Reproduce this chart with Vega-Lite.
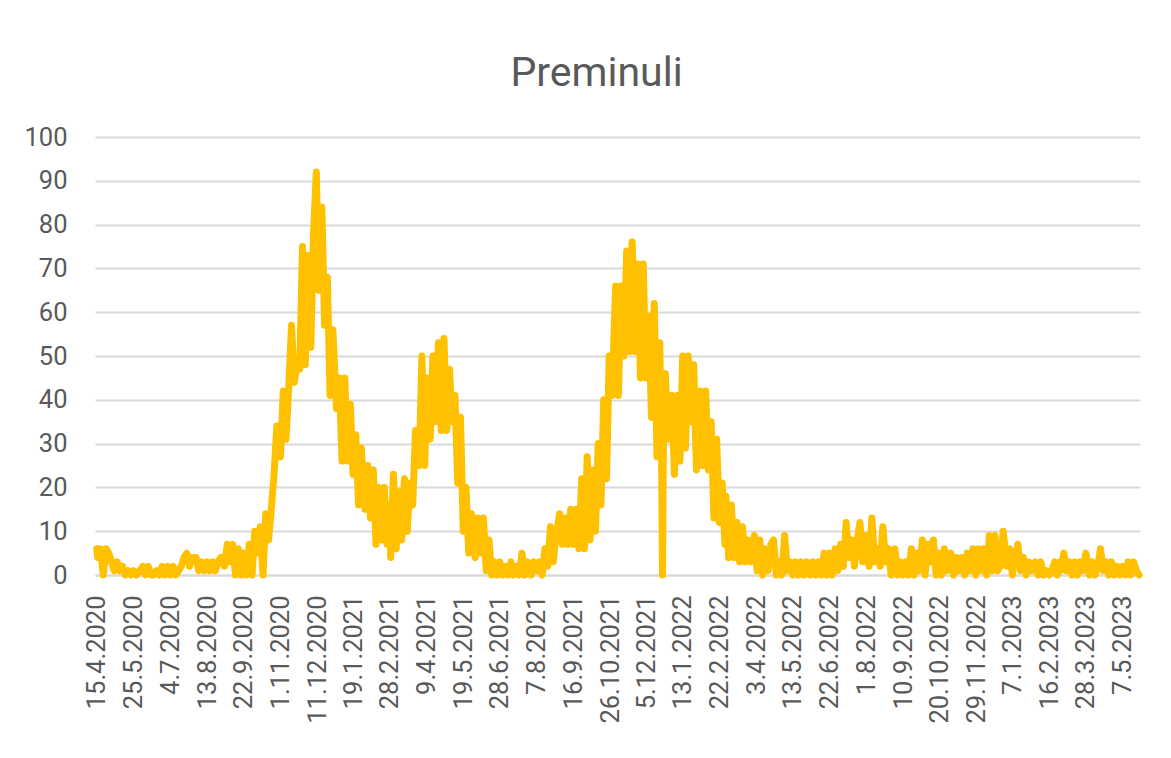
{
"$schema": "https://vega.github.io/schema/vega-lite/v6.json",
"width": 1045, "height": 438,
"autosize": {"type": "none"},
"padding": {"left": 95, "top": 137, "right": 31, "bottom": 183},
"background": "white",
"title": {"text": "Preminuli", "font": "Roboto", "fontSize": 41, "fontWeight": "normal", "color": "#595959", "anchor": "middle", "frame": "group", "dx": -21, "offset": 30},
"data": {"values": [
{"date":"2020-04-15","value":6},{"date":"2020-04-16","value":4},{"date":"2020-04-19","value":6},{"date":"2020-04-22","value":0},{"date":"2020-04-25","value":6},{"date":"2020-04-28","value":5},
{"date":"2020-05-01","value":3},{"date":"2020-05-04","value":1},{"date":"2020-05-07","value":3},{"date":"2020-05-10","value":1},{"date":"2020-05-13","value":2},{"date":"2020-05-16","value":0},{"date":"2020-05-19","value":1},{"date":"2020-05-22","value":0},{"date":"2020-05-25","value":1},{"date":"2020-05-28","value":0},
{"date":"2020-06-01","value":1},{"date":"2020-06-04","value":2},{"date":"2020-06-07","value":0},{"date":"2020-06-10","value":2},{"date":"2020-06-13","value":0},{"date":"2020-06-16","value":0},{"date":"2020-06-19","value":1},{"date":"2020-06-22","value":0},{"date":"2020-06-25","value":2},{"date":"2020-06-28","value":0},
{"date":"2020-07-01","value":2},{"date":"2020-07-04","value":0},{"date":"2020-07-07","value":2},{"date":"2020-07-10","value":0},{"date":"2020-07-13","value":1},{"date":"2020-07-16","value":2},{"date":"2020-07-19","value":4},{"date":"2020-07-22","value":5},{"date":"2020-07-25","value":2},{"date":"2020-07-28","value":4},
{"date":"2020-08-01","value":4},{"date":"2020-08-04","value":1},{"date":"2020-08-07","value":3},{"date":"2020-08-10","value":1},{"date":"2020-08-13","value":3},{"date":"2020-08-16","value":1},{"date":"2020-08-19","value":3},{"date":"2020-08-22","value":1},{"date":"2020-08-25","value":3},{"date":"2020-08-28","value":4},
{"date":"2020-09-01","value":2},{"date":"2020-09-04","value":7},{"date":"2020-09-07","value":3},{"date":"2020-09-10","value":7},{"date":"2020-09-13","value":0},{"date":"2020-09-16","value":6},{"date":"2020-09-19","value":0},{"date":"2020-09-22","value":5},{"date":"2020-09-25","value":0},{"date":"2020-09-28","value":7},
{"date":"2020-10-01","value":0},{"date":"2020-10-04","value":10},{"date":"2020-10-07","value":5},{"date":"2020-10-10","value":11},{"date":"2020-10-13","value":0},{"date":"2020-10-16","value":14},{"date":"2020-10-19","value":8},{"date":"2020-10-22","value":15},{"date":"2020-10-25","value":23},{"date":"2020-10-28","value":34},
{"date":"2020-11-01","value":27},{"date":"2020-11-04","value":42},{"date":"2020-11-07","value":31},{"date":"2020-11-10","value":43},{"date":"2020-11-13","value":57},{"date":"2020-11-16","value":44},{"date":"2020-11-19","value":48},{"date":"2020-11-22","value":47},{"date":"2020-11-25","value":75},{"date":"2020-11-28","value":48},
{"date":"2020-12-01","value":73},{"date":"2020-12-04","value":52},{"date":"2020-12-07","value":78},{"date":"2020-12-10","value":92},{"date":"2020-12-13","value":65},{"date":"2020-12-16","value":84},{"date":"2020-12-19","value":57},{"date":"2020-12-22","value":68},{"date":"2020-12-25","value":41},{"date":"2020-12-28","value":56},
{"date":"2021-01-01","value":38},{"date":"2021-01-04","value":45},{"date":"2021-01-07","value":26},{"date":"2021-01-10","value":45},{"date":"2021-01-13","value":26},{"date":"2021-01-16","value":39},{"date":"2021-01-19","value":23},{"date":"2021-01-22","value":32},{"date":"2021-01-25","value":16},{"date":"2021-01-28","value":29},
{"date":"2021-02-01","value":15},{"date":"2021-02-04","value":25},{"date":"2021-02-07","value":13},{"date":"2021-02-10","value":24},{"date":"2021-02-13","value":7},{"date":"2021-02-16","value":20},{"date":"2021-02-19","value":8},{"date":"2021-02-22","value":20},{"date":"2021-02-25","value":7},{"date":"2021-02-28","value":16},
{"date":"2021-03-01","value":4},{"date":"2021-03-04","value":23},{"date":"2021-03-07","value":6},{"date":"2021-03-10","value":19},{"date":"2021-03-13","value":8},{"date":"2021-03-16","value":22},{"date":"2021-03-19","value":10},{"date":"2021-03-22","value":21},{"date":"2021-03-25","value":16},{"date":"2021-03-28","value":33},
{"date":"2021-04-01","value":25},{"date":"2021-04-04","value":50},{"date":"2021-04-07","value":25},{"date":"2021-04-10","value":45},{"date":"2021-04-13","value":31},{"date":"2021-04-16","value":50},{"date":"2021-04-19","value":35},{"date":"2021-04-22","value":53},{"date":"2021-04-25","value":33},{"date":"2021-04-28","value":54},
{"date":"2021-05-01","value":33},{"date":"2021-05-04","value":47},{"date":"2021-05-07","value":35},{"date":"2021-05-10","value":41},{"date":"2021-05-13","value":21},{"date":"2021-05-16","value":36},{"date":"2021-05-19","value":10},{"date":"2021-05-22","value":20},{"date":"2021-05-25","value":5},{"date":"2021-05-28","value":14},
{"date":"2021-06-01","value":4},{"date":"2021-06-04","value":13},{"date":"2021-06-07","value":5},{"date":"2021-06-10","value":13},{"date":"2021-06-13","value":1},{"date":"2021-06-16","value":8},{"date":"2021-06-19","value":0},{"date":"2021-06-22","value":3},{"date":"2021-06-25","value":0},{"date":"2021-06-28","value":3},
{"date":"2021-07-01","value":0},{"date":"2021-07-04","value":2},{"date":"2021-07-07","value":0},{"date":"2021-07-10","value":3},{"date":"2021-07-13","value":0},{"date":"2021-07-16","value":2},{"date":"2021-07-19","value":0},{"date":"2021-07-22","value":5},{"date":"2021-07-25","value":0},{"date":"2021-07-28","value":3},
{"date":"2021-08-01","value":0},{"date":"2021-08-04","value":3},{"date":"2021-08-07","value":1},{"date":"2021-08-10","value":3},{"date":"2021-08-13","value":0},{"date":"2021-08-16","value":6},{"date":"2021-08-19","value":2},{"date":"2021-08-22","value":11},{"date":"2021-08-25","value":3},{"date":"2021-08-28","value":9},
{"date":"2021-09-01","value":14},{"date":"2021-09-04","value":7},{"date":"2021-09-07","value":13},{"date":"2021-09-10","value":7},{"date":"2021-09-13","value":15},{"date":"2021-09-16","value":7},{"date":"2021-09-19","value":15},{"date":"2021-09-22","value":6},{"date":"2021-09-25","value":22},{"date":"2021-09-28","value":6},
{"date":"2021-10-01","value":27},{"date":"2021-10-04","value":8},{"date":"2021-10-07","value":24},{"date":"2021-10-10","value":10},{"date":"2021-10-13","value":30},{"date":"2021-10-16","value":16},{"date":"2021-10-19","value":40},{"date":"2021-10-22","value":22},{"date":"2021-10-25","value":50},{"date":"2021-10-28","value":41},
{"date":"2021-11-01","value":66},{"date":"2021-11-04","value":41},{"date":"2021-11-07","value":66},{"date":"2021-11-10","value":50},{"date":"2021-11-13","value":74},{"date":"2021-11-16","value":51},{"date":"2021-11-19","value":76},{"date":"2021-11-22","value":51},{"date":"2021-11-25","value":71},{"date":"2021-11-28","value":45},
{"date":"2021-12-01","value":71},{"date":"2021-12-04","value":45},{"date":"2021-12-07","value":59},{"date":"2021-12-10","value":36},{"date":"2021-12-13","value":62},{"date":"2021-12-16","value":27},{"date":"2021-12-19","value":53},{"date":"2021-12-21","value":27},{"date":"2021-12-22","value":0},{"date":"2021-12-23","value":31},{"date":"2021-12-25","value":46},{"date":"2021-12-28","value":31},
{"date":"2022-01-01","value":41},{"date":"2022-01-04","value":23},{"date":"2022-01-07","value":41},{"date":"2022-01-10","value":26},{"date":"2022-01-13","value":50},{"date":"2022-01-16","value":29},{"date":"2022-01-19","value":50},{"date":"2022-01-22","value":35},{"date":"2022-01-25","value":48},{"date":"2022-01-28","value":24},
{"date":"2022-02-01","value":42},{"date":"2022-02-04","value":25},{"date":"2022-02-07","value":42},{"date":"2022-02-10","value":24},{"date":"2022-02-13","value":35},{"date":"2022-02-16","value":13},{"date":"2022-02-19","value":31},{"date":"2022-02-22","value":12},{"date":"2022-02-25","value":21},{"date":"2022-02-28","value":7},
{"date":"2022-03-01","value":18},{"date":"2022-03-04","value":4},{"date":"2022-03-07","value":16},{"date":"2022-03-10","value":4},{"date":"2022-03-13","value":12},{"date":"2022-03-16","value":3},{"date":"2022-03-19","value":11},{"date":"2022-03-22","value":3},{"date":"2022-03-25","value":8},{"date":"2022-03-28","value":3},
{"date":"2022-04-01","value":9},{"date":"2022-04-04","value":1},{"date":"2022-04-07","value":8},{"date":"2022-04-10","value":0},{"date":"2022-04-13","value":6},{"date":"2022-04-16","value":1},{"date":"2022-04-19","value":7},{"date":"2022-04-22","value":8},{"date":"2022-04-25","value":0},{"date":"2022-04-28","value":3},
{"date":"2022-05-01","value":0},{"date":"2022-05-04","value":9},{"date":"2022-05-07","value":1},{"date":"2022-05-10","value":3},{"date":"2022-05-13","value":0},{"date":"2022-05-16","value":3},{"date":"2022-05-19","value":0},{"date":"2022-05-22","value":3},{"date":"2022-05-25","value":0},{"date":"2022-05-28","value":3},
{"date":"2022-06-01","value":0},{"date":"2022-06-04","value":3},{"date":"2022-06-07","value":0},{"date":"2022-06-10","value":3},{"date":"2022-06-13","value":0},{"date":"2022-06-16","value":5},{"date":"2022-06-19","value":0},{"date":"2022-06-22","value":5},{"date":"2022-06-25","value":0},{"date":"2022-06-28","value":6},
{"date":"2022-07-01","value":1},{"date":"2022-07-04","value":7},{"date":"2022-07-07","value":2},{"date":"2022-07-10","value":12},{"date":"2022-07-13","value":4},{"date":"2022-07-16","value":8},{"date":"2022-07-19","value":2},{"date":"2022-07-22","value":8},{"date":"2022-07-25","value":12},{"date":"2022-07-28","value":3},
{"date":"2022-08-01","value":9},{"date":"2022-08-04","value":2},{"date":"2022-08-07","value":13},{"date":"2022-08-10","value":3},{"date":"2022-08-13","value":6},{"date":"2022-08-16","value":2},{"date":"2022-08-19","value":11},{"date":"2022-08-22","value":3},{"date":"2022-08-25","value":6},{"date":"2022-08-28","value":0},
{"date":"2022-09-01","value":6},{"date":"2022-09-04","value":0},{"date":"2022-09-07","value":3},{"date":"2022-09-10","value":0},{"date":"2022-09-13","value":3},{"date":"2022-09-16","value":0},{"date":"2022-09-19","value":6},{"date":"2022-09-22","value":0},{"date":"2022-09-25","value":5},{"date":"2022-09-28","value":1},
{"date":"2022-10-01","value":8},{"date":"2022-10-04","value":0},{"date":"2022-10-07","value":7},{"date":"2022-10-10","value":3},{"date":"2022-10-13","value":8},{"date":"2022-10-16","value":0},{"date":"2022-10-19","value":5},{"date":"2022-10-22","value":0},{"date":"2022-10-25","value":6},{"date":"2022-10-28","value":1},
{"date":"2022-11-01","value":5},{"date":"2022-11-04","value":0},{"date":"2022-11-07","value":4},{"date":"2022-11-10","value":1},{"date":"2022-11-13","value":4},{"date":"2022-11-16","value":0},{"date":"2022-11-19","value":5},{"date":"2022-11-22","value":1},{"date":"2022-11-25","value":6},{"date":"2022-11-28","value":0},
{"date":"2022-12-01","value":6},{"date":"2022-12-04","value":1},{"date":"2022-12-07","value":6},{"date":"2022-12-10","value":0},{"date":"2022-12-13","value":9},{"date":"2022-12-16","value":1},{"date":"2022-12-19","value":9},{"date":"2022-12-22","value":1},{"date":"2022-12-25","value":2},{"date":"2022-12-28","value":10},
{"date":"2023-01-01","value":2},{"date":"2023-01-04","value":6},{"date":"2023-01-07","value":0},{"date":"2023-01-10","value":4},{"date":"2023-01-13","value":7},{"date":"2023-01-16","value":1},{"date":"2023-01-19","value":4},{"date":"2023-01-22","value":0},{"date":"2023-01-25","value":3},{"date":"2023-01-28","value":1},
{"date":"2023-02-01","value":3},{"date":"2023-02-04","value":0},{"date":"2023-02-07","value":3},{"date":"2023-02-10","value":0},{"date":"2023-02-13","value":1},{"date":"2023-02-16","value":0},{"date":"2023-02-19","value":1},{"date":"2023-02-22","value":3},{"date":"2023-02-25","value":0},{"date":"2023-02-28","value":3},
{"date":"2023-03-01","value":1},{"date":"2023-03-04","value":5},{"date":"2023-03-07","value":1},{"date":"2023-03-10","value":3},{"date":"2023-03-13","value":0},{"date":"2023-03-16","value":3},{"date":"2023-03-19","value":0},{"date":"2023-03-22","value":3},{"date":"2023-03-25","value":1},{"date":"2023-03-28","value":5},
{"date":"2023-04-01","value":0},{"date":"2023-04-04","value":3},{"date":"2023-04-07","value":0},{"date":"2023-04-10","value":2},{"date":"2023-04-13","value":6},{"date":"2023-04-16","value":1},{"date":"2023-04-19","value":3},{"date":"2023-04-22","value":0},{"date":"2023-04-25","value":3},{"date":"2023-04-28","value":0},
{"date":"2023-05-01","value":2},{"date":"2023-05-04","value":0},{"date":"2023-05-07","value":2},{"date":"2023-05-10","value":0},{"date":"2023-05-13","value":3},{"date":"2023-05-16","value":0},{"date":"2023-05-19","value":3},{"date":"2023-05-22","value":1},{"date":"2023-05-25","value":0}
]},
"mark": {"type": "line", "color": "#FFC000", "strokeWidth": 7, "strokeJoin": "round", "strokeCap": "round"},
"encoding": {
"x": {"field": "date", "type": "temporal",
 "scale": {"type": "utc", "domain": [{"year":2020,"month":4,"date":13,"utc":true},{"year":2023,"month":5,"date":26,"utc":true}]},
 "axis": {"title": null, "format": "%-d.%-m.%Y", "labelAngle": -90, "labelFont": "Roboto", "labelFontSize": 25.5, "labelColor": "#595959", "labelPadding": 20, "ticks": false, "grid": false, "domainColor": "#D9D9D9", "domainWidth": 2, "labelOverlap": false, "labelFlush": false, "labelBound": false,
 "values": [
 {"year":2020,"month":4,"date":15,"utc":true},{"year":2020,"month":5,"date":25,"utc":true},{"year":2020,"month":7,"date":4,"utc":true},{"year":2020,"month":8,"date":13,"utc":true},{"year":2020,"month":9,"date":22,"utc":true},{"year":2020,"month":11,"date":1,"utc":true},{"year":2020,"month":12,"date":11,"utc":true},
 {"year":2021,"month":1,"date":19,"utc":true},{"year":2021,"month":2,"date":28,"utc":true},{"year":2021,"month":4,"date":9,"utc":true},{"year":2021,"month":5,"date":19,"utc":true},{"year":2021,"month":6,"date":28,"utc":true},{"year":2021,"month":8,"date":7,"utc":true},{"year":2021,"month":9,"date":16,"utc":true},{"year":2021,"month":10,"date":26,"utc":true},{"year":2021,"month":12,"date":5,"utc":true},
 {"year":2022,"month":1,"date":13,"utc":true},{"year":2022,"month":2,"date":22,"utc":true},{"year":2022,"month":4,"date":3,"utc":true},{"year":2022,"month":5,"date":13,"utc":true},{"year":2022,"month":6,"date":22,"utc":true},{"year":2022,"month":8,"date":1,"utc":true},{"year":2022,"month":9,"date":10,"utc":true},{"year":2022,"month":10,"date":20,"utc":true},{"year":2022,"month":11,"date":29,"utc":true},
 {"year":2023,"month":1,"date":7,"utc":true},{"year":2023,"month":2,"date":16,"utc":true},{"year":2023,"month":3,"date":28,"utc":true},{"year":2023,"month":5,"date":7,"utc":true}
 ]}},
"y": {"field": "value", "type": "quantitative",
 "scale": {"domain": [0, 100]},
 "axis": {"title": null, "values": [0,10,20,30,40,50,60,70,80,90,100], "labelFont": "Roboto", "labelFontSize": 25.5, "labelColor": "#595959", "labelPadding": 28, "ticks": false, "domain": false, "gridColor": "#D9D9D9", "gridWidth": 2}}
},
"config": {"view": {"stroke": null}}
}
